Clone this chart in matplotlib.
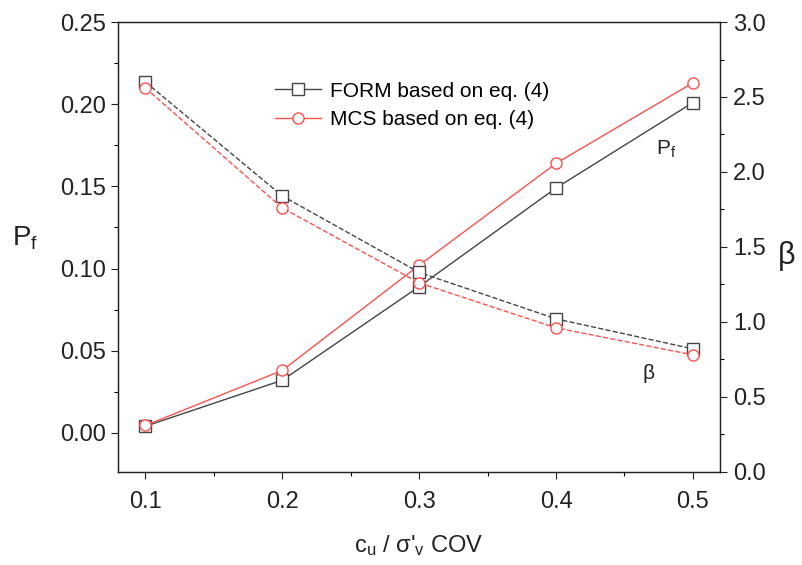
import matplotlib.pyplot as plt
from matplotlib.ticker import MultipleLocator

plt.rcParams['font.family'] = ['Liberation Sans', 'DejaVu Sans']
plt.rcParams['mathtext.fontset'] = 'custom'
plt.rcParams['mathtext.rm'] = 'Liberation Sans'
plt.rcParams['mathtext.it'] = 'Liberation Sans'

# datos
cov = [0.1, 0.2, 0.3, 0.4, 0.5]
pf_form = [0.004, 0.032, 0.089, 0.149, 0.201]
pf_mcs = [0.0045, 0.038, 0.102, 0.164, 0.213]
beta_form = [2.60, 1.84, 1.33, 1.02, 0.82]
beta_mcs = [2.56, 1.76, 1.26, 0.96, 0.78]

black = '#454545'
red = '#ff5050'

fig = plt.figure(figsize=(8.03, 5.65), dpi=100)
ax = fig.add_axes([0.147, 0.165, 0.750, 0.796])
ax2 = ax.twinx()

mk = dict(markersize=8, markerfacecolor='white', markeredgewidth=1.0)
l1, = ax.plot(cov, pf_form, '-', color=black, marker='s', lw=1.0, markeredgecolor=black, zorder=3, **mk)
l2, = ax.plot(cov, pf_mcs, '-', color=red, marker='o', lw=1.0, markeredgecolor=red, zorder=3, **mk)
ax2.plot(cov, beta_form, '--', color=black, marker='s', lw=1.0, markeredgecolor=black, **mk)
ax2.plot(cov, beta_mcs, '--', color=red, marker='o', lw=1.0, markeredgecolor=red, **mk)

ax.set_xlim(0.08, 0.52)
ax.set_ylim(-0.0237, 0.25)
ax2.set_ylim(0, 3.0)

ax.xaxis.set_minor_locator(MultipleLocator(0.05))
ax.yaxis.set_minor_locator(MultipleLocator(0.025))
ax2.yaxis.set_minor_locator(MultipleLocator(0.25))
ax.set_xticks([0.1, 0.2, 0.3, 0.4, 0.5])
ax.set_xticklabels(['0.1', '0.2', '0.3', '0.4', '0.5'])
ax.set_yticks([0.0, 0.05, 0.10, 0.15, 0.20, 0.25])
ax.set_yticklabels(['0.00', '0.05', '0.10', '0.15', '0.20', '0.25'])
ax2.set_yticks([0.0, 0.5, 1.0, 1.5, 2.0, 2.5, 3.0])
ax2.set_yticklabels(['0.0', '0.5', '1.0', '1.5', '2.0', '2.5', '3.0'])

for a in (ax, ax2):
    a.tick_params(which='major', direction='out', length=5, width=0.8, labelsize=17, colors='#222222', pad=4)
    a.tick_params(which='minor', direction='out', length=3, width=0.8)
    for s in a.spines.values():
        s.set_color('#222222')
        s.set_linewidth(0.9)
ax.tick_params(axis='x', which='major', pad=9)

ax.set_xlabel(r"c$_{\mathrm{u}}$ / $\sigma$'$_{\mathrm{v}}$ COV", fontsize=17, color='#222222', labelpad=14)
ax.set_ylabel(r'P$_{\mathrm{f}}$', fontsize=20, rotation=0, color='#222222', va='center')
ax.yaxis.set_label_coords(-0.155, 0.52)
ax2.set_ylabel(r'$\beta$', fontsize=22, rotation=0, color='#222222', va='center')
ax2.yaxis.set_label_coords(1.11, 0.48)

ax.text(0.473, 0.1695, r'P$_{\mathrm{f}}$', fontsize=15, color='#222222')
ax2.text(0.463, 0.62, r'$\beta$', fontsize=15, color='#222222')

ax.legend([l1, l2], ['FORM based on eq. (4)', 'MCS based on eq. (4)'],
          loc='upper left', bbox_to_anchor=(0.237, 0.90), frameon=False,
          fontsize=15, handlelength=2.2, handletextpad=0.4, borderpad=0.2, labelspacing=0.45)

fig.savefig('out.png', dpi=100, facecolor='white')
